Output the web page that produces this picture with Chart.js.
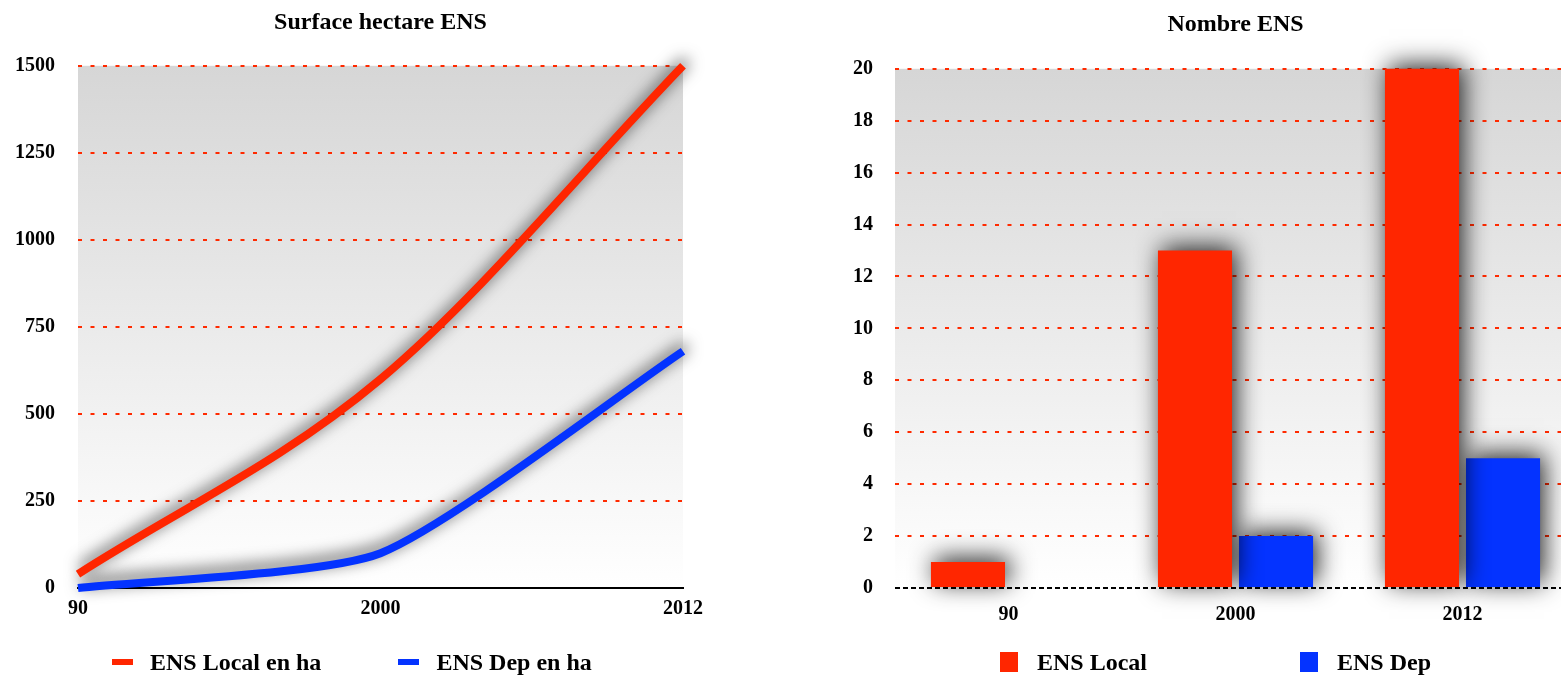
<!DOCTYPE html>
<html lang="fr">
<head>
    <meta charset="UTF-8">
    <title>ENS - Surface et Nombre</title>
    <style>
        html, body {
            margin: 0;
            padding: 0;
            background: #fff;
            width: 1561px;
            height: 677px;
            overflow: hidden;
            position: relative;
            font-family: "Liberation Serif", "Times New Roman", serif;
        }
        canvas {
            position: absolute;
            top: 0;
        }
        #surface-chart { left: 0; }
        #count-chart { left: 840px; }
        .legend {
            position: absolute;
            top: 648px;
            height: 28px;
            display: flex;
            align-items: center;
            font-size: 24px;
            font-weight: bold;
            color: #000;
            white-space: nowrap;
        }
        .legend .item {
            display: flex;
            align-items: center;
        }
        #surface-legend { left: 112px; gap: 77px; }
        #surface-legend .mark { width: 21px; height: 6px; margin-right: 17px; }
        #count-legend { left: 1000px; gap: 153px; }
        #count-legend .mark { width: 18px; height: 20px; margin-right: 19px; }
    </style>
</head>
<body>
<canvas id="surface-chart" width="720" height="677"></canvas>
<canvas id="count-chart" width="760" height="677"></canvas>
<div class="legend" id="surface-legend"></div>
<div class="legend" id="count-legend"></div>

<script src="https://cdn.jsdelivr.net/npm/chart.js"></script>
<script>
    // Data
    const years = ['90', '2000', '2012'];

    const surfaceLocal = [40, 600, 1500];
    const surfaceDep = [0, 100, 680];
    const surfaceTicks = [0, 250, 500, 750, 1000, 1250, 1500];

    const countLocal = [1, 13, 20];
    const countDep = [null, 2, 5];
    const countTicks = [0, 2, 4, 6, 8, 10, 12, 14, 16, 18, 20];

    const RED = '#ff2600';
    const BLUE = '#0433ff';
    const GRID_RED = '#ff2a00';

    Chart.defaults.font.family = '"Liberation Serif", "Times New Roman", serif';
    Chart.defaults.font.weight = 'bold';
    Chart.defaults.color = '#000';

    // Grey-to-white gradient behind the plot area
    const plotBackground = {
        id: 'plotBackground',
        beforeDraw(chart) {
            const {ctx, chartArea: a} = chart;
            const g = ctx.createLinearGradient(0, a.top, 0, a.bottom);
            g.addColorStop(0, '#d6d6d6');
            g.addColorStop(1, '#ffffff');
            ctx.save();
            ctx.fillStyle = g;
            ctx.fillRect(a.left, a.top, a.right - a.left, a.bottom - a.top);
            ctx.restore();
        }
    };

    // Soft drop shadow under every dataset
    function shadowPlugin(blur, dx, dy, color) {
        return {
            id: 'shadow',
            beforeDatasetDraw(chart) {
                const ctx = chart.ctx;
                ctx.save();
                ctx.shadowColor = color;
                ctx.shadowBlur = blur;
                ctx.shadowOffsetX = dx;
                ctx.shadowOffsetY = dy;
            },
            afterDatasetDraw(chart) {
                chart.ctx.restore();
            }
        };
    }

    const plainLabel = value => String(value);

    // Line chart: Surface hectare ENS
    const surfaceChart = new Chart(document.getElementById('surface-chart'), {
        type: 'line',
        data: {
            labels: years,
            datasets: [{
                label: 'ENS Local en ha',
                data: surfaceLocal,
                borderColor: RED,
                backgroundColor: RED,
                borderWidth: 8,
                pointRadius: 0,
                cubicInterpolationMode: 'monotone',
                clip: false
            }, {
                label: 'ENS Dep en ha',
                data: surfaceDep,
                borderColor: BLUE,
                backgroundColor: BLUE,
                borderWidth: 8,
                pointRadius: 0,
                tension: 0.2,
                clip: false
            }]
        },
        options: {
            responsive: false,
            animation: false,
            layout: { padding: { left: 0, right: 37, top: 0, bottom: 55 } },
            plugins: {
                legend: { display: false },
                tooltip: { enabled: false },
                title: {
                    display: true,
                    text: 'Surface hectare ENS',
                    fullSize: false,
                    color: '#000',
                    font: { size: 24, weight: 'bold' },
                    padding: { top: 8, bottom: 29 }
                }
            },
            scales: {
                x: {
                    offset: false,
                    grid: { display: false },
                    border: { display: true, color: '#000', width: 2 },
                    ticks: { font: { size: 20 }, padding: 1, maxRotation: 0 }
                },
                y: {
                    min: 0,
                    max: 1500,
                    afterBuildTicks: scale => { scale.ticks = surfaceTicks.map(v => ({ value: v })); },
                    afterFit: scale => { scale.width = 78; },
                    grid: { color: GRID_RED, lineWidth: 2, drawTicks: false },
                    border: { display: false, dash: [4, 8.5] },
                    ticks: { font: { size: 20 }, padding: 23, callback: plainLabel }
                }
            }
        },
        plugins: [plotBackground, shadowPlugin(16, 3, -5, 'rgba(0,0,0,0.75)')]
    });

    // Bar chart: Nombre ENS
    const countChart = new Chart(document.getElementById('count-chart'), {
        type: 'bar',
        data: {
            labels: years,
            datasets: [{
                label: 'ENS Local',
                data: countLocal,
                backgroundColor: RED,
                borderWidth: 0,
                clip: false
            }, {
                label: 'ENS Dep',
                data: countDep,
                backgroundColor: BLUE,
                borderWidth: 0,
                clip: false
            }]
        },
        options: {
            responsive: false,
            animation: false,
            categoryPercentage: 0.714,
            barPercentage: 0.914,
            layout: { padding: { left: 0, right: 24, top: 0, bottom: 43 } },
            plugins: {
                legend: { display: false },
                tooltip: { enabled: false },
                title: {
                    display: true,
                    text: 'Nombre ENS',
                    fullSize: false,
                    color: '#000',
                    font: { size: 24, weight: 'bold' },
                    padding: { top: 10, bottom: 30 }
                }
            },
            scales: {
                x: {
                    grid: { display: false },
                    border: { display: false },
                    ticks: { font: { size: 20 }, padding: 7, maxRotation: 0 }
                },
                y: {
                    min: 0,
                    max: 20,
                    afterBuildTicks: scale => { scale.ticks = countTicks.map(v => ({ value: v })); },
                    afterFit: scale => { scale.width = 55; },
                    // zero line is a black dashed baseline, the others red dotted
                    grid: {
                        color: c => (c.tick && c.tick.value === 0 ? '#000' : GRID_RED),
                        lineWidth: 2,
                        drawTicks: false
                    },
                    border: {
                        display: false,
                        dash: c => (c.tick && c.tick.value === 0 ? [5, 3] : [4, 8.5])
                    },
                    ticks: { font: { size: 20 }, padding: 22, callback: plainLabel }
                }
            }
        },
        plugins: [plotBackground, shadowPlugin(24, 4, -4, 'rgba(0,0,0,0.85)')]
    });

    // HTML legends built from the datasets
    function buildLegend(chart, id) {
        const box = document.getElementById(id);
        chart.data.datasets.forEach(ds => {
            const item = document.createElement('div');
            item.className = 'item';
            const mark = document.createElement('span');
            mark.className = 'mark';
            mark.style.background = ds.backgroundColor;
            const text = document.createElement('span');
            text.textContent = ds.label;
            item.appendChild(mark);
            item.appendChild(text);
            box.appendChild(item);
        });
    }
    buildLegend(surfaceChart, 'surface-legend');
    buildLegend(countChart, 'count-legend');
</script>
</body>
</html>
